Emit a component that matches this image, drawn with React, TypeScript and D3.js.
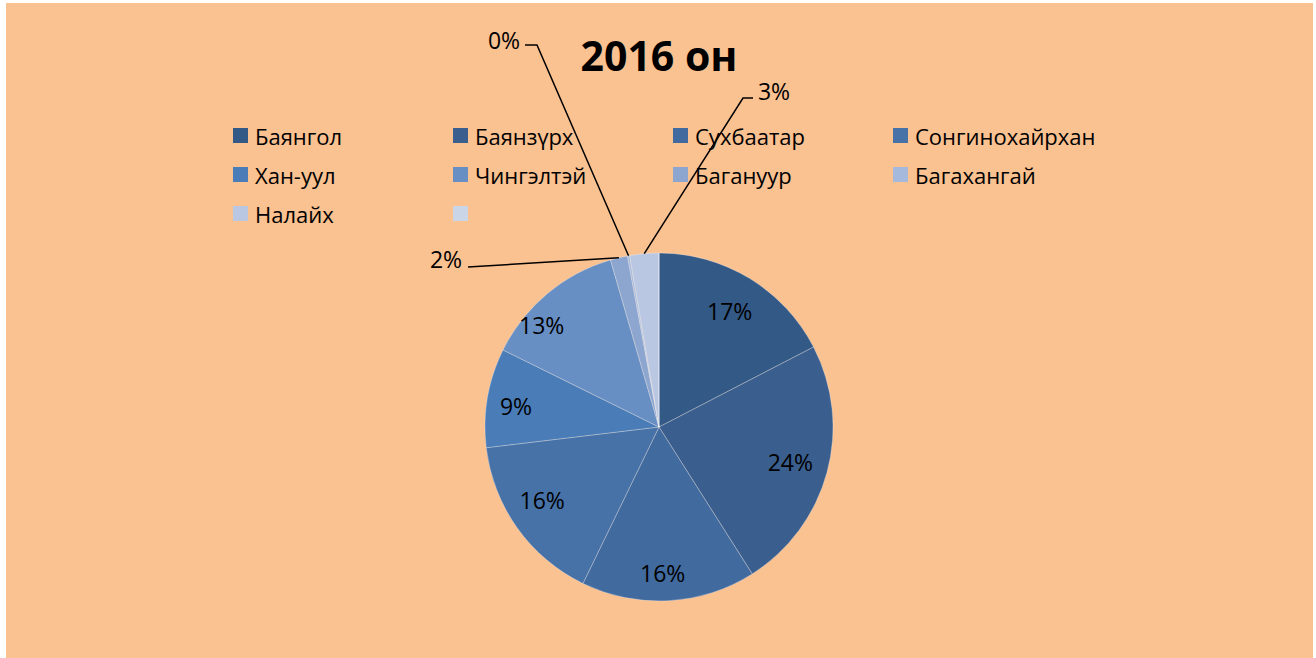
import React from "react";
import * as d3 from "d3";

// districts (legend order) and their share for 2016
const districts = [
  "Баянгол",
  "Баянзүрх",
  "Сухбаатар",
  "Сонгинохайрхан",
  "Хан-уул",
  "Чингэлтэй",
  "Багануур",
  "Багахангай",
  "Налайх",
  "",
];
const shares = [17.4, 23.6, 16.2, 15.9, 9.2, 13.2, 1.6, 0.2, 2.7, 0];
const colors = [
  "#335987",
  "#3a5f8e",
  "#416a9f",
  "#4672a8",
  "#4a7db8",
  "#678fc4",
  "#8ca6d0",
  "#a5b9dc",
  "#b9c7e2",
  "#cbd5e8",
];

// Excel-like manual placement of labels
const insideNudge: Record<string, [number, number]> = {
  Сухбаатар: [-4, 10],
  Сонгинохайрхан: [-6, -6],
  "Хан-уул": [-9, 2],
  Чингэлтэй: [-30, 2],
};
const outsideLabels: Record<string, { text: [number, number]; path: [number, number][] }> = {
  Багануур: { text: [446, 259], path: [[468, 267]] },
  Багахангай: { text: [504, 40], path: [[537, 45], [525, 45]] },
  Налайх: { text: [774, 91], path: [[743, 98], [753, 98]] },
};

const W = 1316;
const H = 658;
const cx = 659;
const cy = 427;
const R = 174;

export default function App() {
  const total = d3.sum(shares);
  const pie = d3
    .pie<number>()
    .sort(null)
    .value((d) => d);
  const arcs = pie(shares);
  const arc = d3.arc<d3.PieArcDatum<number>>().innerRadius(0).outerRadius(R);
  const labelArc = d3.arc<d3.PieArcDatum<number>>().innerRadius(136).outerRadius(136);
  const edgeArc = d3.arc<d3.PieArcDatum<number>>().innerRadius(R).outerRadius(R);
  const pct = (v: number) => `${Math.round((v / total) * 100)}%`;

  const font = "'Open Sans', 'Noto Sans', sans-serif";

  return (
    <svg
      width={W}
      height={H}
      style={{ position: "absolute", left: 0, top: 0 }}
      fontFamily={font}
    >
      <rect x={6} y={3} width={1307} height={655} fill="#fac191" />
      <text
        x={659}
        y={55}
        textAnchor="middle"
        dominantBaseline="central"
        fontSize={41}
        fontWeight="bold"
      >
        2016 он
      </text>

      {/* legend */}
      <g>
        {districts.map((name, i) => {
          const col = i % 4;
          const row = Math.floor(i / 4);
          const x = 233 + col * 220;
          const y = 135.5 + row * 39;
          return (
            <g key={i} transform={`translate(${x},${y})`}>
              <rect x={0} y={-7.5} width={15} height={15} fill={colors[i]} />
              <text x={22} y={0} dominantBaseline="central" fontSize={22}>
                {name}
              </text>
            </g>
          );
        })}
      </g>

      {/* pie */}
      <g transform={`translate(${cx},${cy})`}>
        {arcs.map((a, i) => (
          <path
            key={i}
            d={arc(a) || ""}
            fill={colors[i]}
            stroke="#ffffff"
            strokeOpacity={0.35}
            strokeWidth={0.8}
          />
        ))}
        {arcs.map((a, i) => {
          const name = districts[i];
          if (!name || outsideLabels[name]) return null;
          const [lx, ly] = labelArc.centroid(a);
          const [nx, ny] = insideNudge[name] || [0, 0];
          return (
            <text
              key={i}
              x={lx + nx}
              y={ly + ny}
              textAnchor="middle"
              dominantBaseline="central"
              fontSize={23}
            >
              {pct(shares[i])}
            </text>
          );
        })}
      </g>

      {/* outside labels with leader lines */}
      {arcs.map((a, i) => {
        const o = outsideLabels[districts[i]];
        if (!o) return null;
        const [ex, ey] = edgeArc.centroid(a);
        const pts: [number, number][] = [[cx + ex, cy + ey], ...o.path];
        return (
          <g key={i}>
            <path d={d3.line()(pts) || ""} fill="none" stroke="#000" strokeWidth={1.5} />
            <text
              x={o.text[0]}
              y={o.text[1]}
              textAnchor="middle"
              dominantBaseline="central"
              fontSize={23}
            >
              {pct(shares[i])}
            </text>
          </g>
        );
      })}
    </svg>
  );
}
